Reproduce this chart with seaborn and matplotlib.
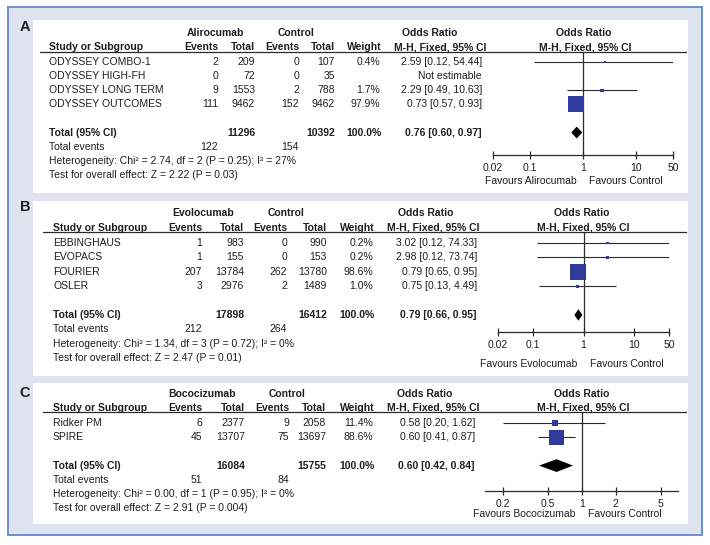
import numpy as np
import pandas as pd
import matplotlib
matplotlib.use('Agg')
import matplotlib.pyplot as plt
from matplotlib.patches import Rectangle
from matplotlib.lines import Line2D
from matplotlib.ticker import NullLocator
import seaborn as sns

# ---- Panel A: alirocumab ----
a_drug = 'Alirocumab'
a_studies = ['ODYSSEY COMBO-1', 'ODYSSEY HIGH-FH', 'ODYSSEY LONG TERM', 'ODYSSEY OUTCOMES']
a_ev_drug = [2, 0, 9, 111]
a_n_drug = [209, 72, 1553, 9462]
a_ev_ctrl = [0, 0, 2, 152]
a_n_ctrl = [107, 35, 788, 9462]
a_weight = [0.4, np.nan, 1.7, 97.9]
a_or = [2.59, np.nan, 2.29, 0.73]
a_lo = [0.12, np.nan, 0.49, 0.57]
a_hi = [54.44, np.nan, 10.63, 0.93]
a_total_or = [0.76, 0.60, 0.97]
a_total_n = [11296, 10392]
a_total_ev = [122, 154]
a_het = 'Heterogeneity: Chi² = 2.74, df = 2 (P = 0.25); I² = 27%'
a_test = 'Test for overall effect: Z = 2.22 (P = 0.03)'
a_ticks = [0.02, 0.1, 1, 10, 50]
a_tick_labels = ['0.02', '0.1', '1', '10', '50']

# ---- Panel B: evolocumab ----
b_drug = 'Evolocumab'
b_studies = ['EBBINGHAUS', 'EVOPACS', 'FOURIER', 'OSLER']
b_ev_drug = [1, 1, 207, 3]
b_n_drug = [983, 155, 13784, 2976]
b_ev_ctrl = [0, 0, 262, 2]
b_n_ctrl = [990, 153, 13780, 1489]
b_weight = [0.2, 0.2, 98.6, 1.0]
b_or = [3.02, 2.98, 0.79, 0.75]
b_lo = [0.12, 0.12, 0.65, 0.13]
b_hi = [74.33, 73.74, 0.95, 4.49]
b_total_or = [0.79, 0.66, 0.95]
b_total_n = [17898, 16412]
b_total_ev = [212, 264]
b_het = 'Heterogeneity: Chi² = 1.34, df = 3 (P = 0.72); I² = 0%'
b_test = 'Test for overall effect: Z = 2.47 (P = 0.01)'
b_ticks = [0.02, 0.1, 1, 10, 50]
b_tick_labels = ['0.02', '0.1', '1', '10', '50']

# ---- Panel C: bococizumab ----
c_drug = 'Bococizumab'
c_studies = ['Ridker PM', 'SPIRE']
c_ev_drug = [6, 45]
c_n_drug = [2377, 13707]
c_ev_ctrl = [9, 75]
c_n_ctrl = [2058, 13697]
c_weight = [11.4, 88.6]
c_or = [0.58, 0.60]
c_lo = [0.20, 0.41]
c_hi = [1.62, 0.87]
c_total_or = [0.60, 0.42, 0.84]
c_total_n = [16084, 15755]
c_total_ev = [51, 84]
c_het = 'Heterogeneity: Chi² = 0.00, df = 1 (P = 0.95); I² = 0%'
c_test = 'Test for overall effect: Z = 2.91 (P = 0.004)'
c_ticks = [0.2, 0.5, 1, 2, 5]
c_tick_labels = ['0.2', '0.5', '1', '2', '5']

panels = [
    dict(letter='A', drug=a_drug, studies=a_studies, ev1=a_ev_drug, n1=a_n_drug,
         ev2=a_ev_ctrl, n2=a_n_ctrl, w=a_weight, est=a_or, lo=a_lo, hi=a_hi,
         tot=a_total_or, tot_n=a_total_n, tot_ev=a_total_ev, het=a_het,
         test=a_test, ticks=a_ticks, tick_labels=a_tick_labels),
    dict(letter='B', drug=b_drug, studies=b_studies, ev1=b_ev_drug, n1=b_n_drug,
         ev2=b_ev_ctrl, n2=b_n_ctrl, w=b_weight, est=b_or, lo=b_lo, hi=b_hi,
         tot=b_total_or, tot_n=b_total_n, tot_ev=b_total_ev, het=b_het,
         test=b_test, ticks=b_ticks, tick_labels=b_tick_labels),
    dict(letter='C', drug=c_drug, studies=c_studies, ev1=c_ev_drug, n1=c_n_drug,
         ev2=c_ev_ctrl, n2=c_n_ctrl, w=c_weight, est=c_or, lo=c_lo, hi=c_hi,
         tot=c_total_or, tot_n=c_total_n, tot_ev=c_total_ev, het=c_het,
         test=c_test, ticks=c_ticks, tick_labels=c_tick_labels),
]

# layout in pixels (from top-left)
layouts = [
    dict(box=(33, 20, 688, 193), let_y=27, h1=33, h2=47, line_y=52, line_x0=40,
         y0=62, dy=14.1, study=49, ev1=218, n1=255, ev2=299, n2=335, w=380, ci=482,
         g1=215, g2=296, or_t=430, mh_t=440, or_p=584, ax_x=(493, 673), xlim=(0.02, 50),
         axis_y=155, fav_y=181, dia=0.42),
    dict(box=(33, 201, 688, 376), let_y=207, h1=213, h2=228, line_y=232, line_x0=43,
         y0=243, dy=14.4, study=53, ev1=202, n1=244, ev2=287, n2=327, w=373, ci=477,
         g1=203, g2=286, or_t=426, mh_t=433, or_p=582, ax_x=(498, 669), xlim=(0.02, 50),
         axis_y=332, fav_y=364, dia=0.4),
    dict(box=(33, 383, 688, 524), let_y=393, h1=394, h2=408, line_y=412, line_x0=43,
         y0=423, dy=14.2, study=53, ev1=202, n1=245, ev2=289, n2=326, w=373, ci=475,
         g1=202, g2=287, or_t=425, mh_t=433, or_p=582, ax_x=(485, 678), xlim=(0.14, 7.1),
         axis_y=491, fav_y=514, dia=0.45),
]

W, H = 710, 545
FS = 7.5
TXT = '#1e1e1e'
SQ = '#2f3b9a'
LINE = '#2a2a2a'

sns.set_theme(style='white')
plt.rcParams['font.family'] = ['Liberation Sans', 'DejaVu Sans']

fig = plt.figure(figsize=(W / 100, H / 100), dpi=100)
fig.patch.set_facecolor('white')

# outer lavender frame
fig.patches.append(Rectangle((8 / W, 1 - 535 / H), 694 / W, 528 / H,
                             transform=fig.transFigure, facecolor='#dfe3f0',
                             edgecolor='#6d8fcc', linewidth=1.4, zorder=-2))


def put(x, y, s, ha='left', bold=False, size=FS, **kw):
    fig.text(x / W, 1 - y / H, s, ha=ha, va='center', fontsize=size,
             fontweight='bold' if bold else 'normal', color=TXT, **kw)


for p, L in zip(panels, layouts):
    x0, y_top, x1, y_bot = L['box']
    fig.patches.append(Rectangle((x0 / W, 1 - y_bot / H), (x1 - x0) / W, (y_bot - y_top) / H,
                                 transform=fig.transFigure, facecolor='white',
                                 edgecolor='none', zorder=-1))
    put(25, L['let_y'], p['letter'], ha='center', bold=True, size=10.5,
        family=['Liberation Sans Narrow', 'Liberation Sans'])

    # header
    put(L['g1'], L['h1'], p['drug'], ha='center', bold=True)
    put(L['g2'], L['h1'], 'Control', ha='center', bold=True)
    put(L['or_t'], L['h1'], 'Odds Ratio', ha='center', bold=True)
    put(L['or_p'], L['h1'], 'Odds Ratio', ha='center', bold=True)
    put(L['study'], L['h2'], 'Study or Subgroup', bold=True)
    put(L['ev1'], L['h2'], 'Events', ha='right', bold=True)
    put(L['n1'], L['h2'], 'Total', ha='right', bold=True)
    put(L['ev2'], L['h2'], 'Events', ha='right', bold=True)
    put(L['n2'], L['h2'], 'Total', ha='right', bold=True)
    put(L['w'] + 2, L['h2'], 'Weight', ha='right', bold=True)
    put(L['mh_t'], L['h2'], 'M-H, Fixed, 95% CI', ha='center', bold=True)
    put(L['or_p'] + 1, L['h2'], 'M-H, Fixed, 95% CI', ha='center', bold=True)
    fig.add_artist(Line2D([L['line_x0'] / W, 686 / W], [1 - L['line_y'] / H] * 2,
                          transform=fig.transFigure, color=LINE, lw=0.9))

    # study rows
    n = len(p['studies'])
    ys = [L['y0'] + i * L['dy'] for i in range(n)]
    for i, y in enumerate(ys):
        put(L['study'], y, p['studies'][i])
        put(L['ev1'], y, str(p['ev1'][i]), ha='right')
        put(L['n1'], y, str(p['n1'][i]), ha='right')
        put(L['ev2'], y, str(p['ev2'][i]), ha='right')
        put(L['n2'], y, str(p['n2'][i]), ha='right')
        if np.isnan(p['est'][i]):
            put(L['ci'], y, 'Not estimable', ha='right')
        else:
            put(L['w'], y, f"{p['w'][i]:.1f}%", ha='right')
            put(L['ci'], y, f"{p['est'][i]:.2f} [{p['lo'][i]:.2f}, {p['hi'][i]:.2f}]", ha='right')

    # total rows
    ti = n + 1
    yt = L['y0'] + ti * L['dy']
    t = p['tot']
    put(L['study'], yt, 'Total (95% CI)', bold=True)
    put(L['n1'], yt, str(p['tot_n'][0]), ha='right', bold=True)
    put(L['n2'], yt, str(p['tot_n'][1]), ha='right', bold=True)
    put(L['w'] + 2, yt, '100.0%', ha='right', bold=True)
    put(L['ci'], yt, f'{t[0]:.2f} [{t[1]:.2f}, {t[2]:.2f}]', ha='right', bold=True)
    put(L['study'], yt + L['dy'], 'Total events')
    put(L['ev1'], yt + L['dy'], str(p['tot_ev'][0]), ha='right')
    put(L['ev2'], yt + L['dy'], str(p['tot_ev'][1]), ha='right')
    put(L['study'], yt + 2 * L['dy'], p['het'])
    put(L['study'], yt + 3 * L['dy'], p['test'])

    # forest axes
    ax_l, ax_r = L['ax_x']
    ax = fig.add_axes([ax_l / W, 1 - L['axis_y'] / H, (ax_r - ax_l) / W,
                       (L['axis_y'] - L['line_y']) / H])
    ax.patch.set_alpha(0)
    rows = np.arange(n)
    ax.hlines(rows, p['lo'], p['hi'], color=LINE, lw=0.8)
    df = pd.DataFrame({'est': p['est'], 'row': rows, 'w': p['w']}).dropna()
    sns.scatterplot(data=df, x='est', y='row', size='w', sizes=(3, 135),
                    size_norm=(0, 100), marker='s', color=SQ, edgecolor='none',
                    legend=False, ax=ax, zorder=3)
    h = L['dia']
    ax.fill([t[1], t[0], t[2], t[0]], [ti, ti - h, ti, ti + h], color='black',
            lw=0, zorder=3)
    ax.axvline(1, color=LINE, lw=0.9)
    ax.set_xscale('log')
    ax.set_xlim(*L['xlim'])
    ax.set_ylim((L['axis_y'] - L['y0']) / L['dy'], (L['line_y'] - L['y0']) / L['dy'])
    ax.set_xticks(p['ticks'])
    ax.set_xticklabels(p['tick_labels'])
    ax.xaxis.set_minor_locator(NullLocator())
    ax.set_yticks([])
    ax.set_xlabel('')
    ax.set_ylabel('')
    for s in ['top', 'left', 'right']:
        ax.spines[s].set_visible(False)
    ax.spines['bottom'].set_color(LINE)
    ax.spines['bottom'].set_linewidth(0.9)
    ax.tick_params(axis='x', direction='inout', length=6, width=0.9, color=LINE,
                   pad=2.5, labelsize=FS, labelcolor=TXT, bottom=True)
    fav_y = 1 - L['fav_y'] / H
    ax.annotate(f"Favours {p['drug']}", xy=(1, fav_y), xycoords=('data', 'figure fraction'),
                xytext=(-6, 0), textcoords='offset pixels', ha='right', va='center',
                fontsize=FS, color=TXT)
    ax.annotate('Favours Control', xy=(1, fav_y), xycoords=('data', 'figure fraction'),
                xytext=(6, 0), textcoords='offset pixels', ha='left', va='center',
                fontsize=FS, color=TXT)

fig.savefig('out.png', dpi=100)
